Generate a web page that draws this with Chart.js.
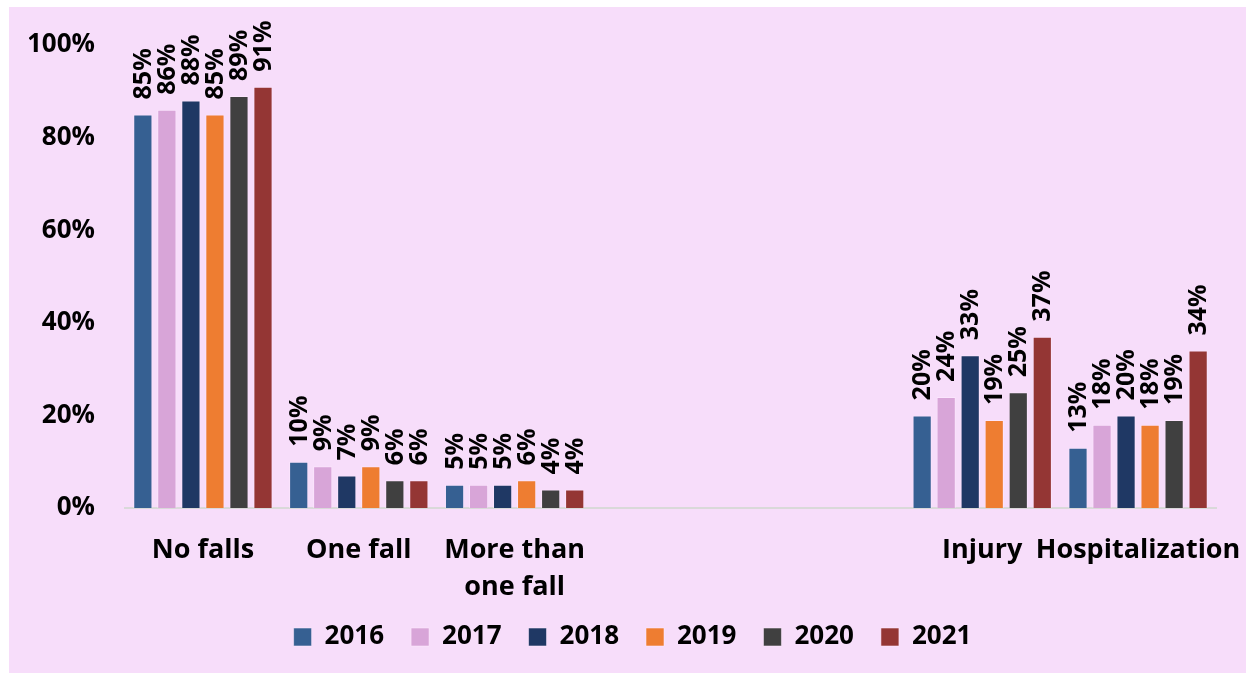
<!DOCTYPE html>
<html>
<head>
<meta charset="utf-8">
<script src="https://cdn.jsdelivr.net/npm/chart.js@4/dist/chart.umd.min.js"></script>
<style>
  body { margin: 0; background: #ffffff; }
  #box { position: absolute; left: 9px; top: 7px; width: 1237px; height: 666px; background: #F7DDFA; }
</style>
</head>
<body>
<div id="box"><canvas id="falls"></canvas></div>
<script>
// categories (two blank slots keep the gap between the fall counts and the outcomes)
const categories = ["No falls", "One fall", ["More than", "one fall"], "", "", "Injury", "Hospitalization"];
const years = ["2016", "2017", "2018", "2019", "2020", "2021"];

const y2016 = [85, 10, 5, null, null, 20, 13];
const y2017 = [86, 9, 5, null, null, 24, 18];
const y2018 = [88, 7, 5, null, null, 33, 20];
const y2019 = [85, 9, 6, null, null, 19, 18];
const y2020 = [89, 6, 4, null, null, 25, 19];
const y2021 = [91, 6, 4, null, null, 37, 34];

const yTicks = [0, 20, 40, 60, 80, 100];

const colors = ["#366092", "#D8A5D8", "#1F3864", "#EE7D31", "#404040", "#943634"];
const FONT = "'Open Sans', 'Liberation Sans', sans-serif";

const series = [y2016, y2017, y2018, y2019, y2020, y2021];

// rotated % labels over each bar
const barLabels = {
    id: "barLabels",
    afterDatasetsDraw(chart) {
        const ctx = chart.ctx;
        ctx.save();
        ctx.font = "bold 25px " + FONT;
        ctx.fillStyle = "#000000";
        chart.data.datasets.forEach((ds, i) => {
            const meta = chart.getDatasetMeta(i);
            meta.data.forEach((bar, j) => {
                const v = ds.data[j];
                if (v === null || v === undefined) return;
                ctx.save();
                ctx.translate(bar.x + 1, bar.y - 15);
                ctx.rotate(-Math.PI / 2);
                ctx.textAlign = "left";
                ctx.textBaseline = "middle";
                ctx.fillText(v + "%", 0, 0);
                ctx.restore();
            });
        });
        ctx.restore();
    }
};

new Chart("falls", {
    type: "bar",
    data: {
        labels: categories,
        datasets: series.map((d, i) => ({
            label: years[i],
            data: d,
            backgroundColor: colors[i],
            borderColor: "rgba(255,235,255,0.55)",
            borderWidth: 1,
            categoryPercentage: 0.925,
            barPercentage: 0.8
        }))
    },
    options: {
        responsive: true,
        maintainAspectRatio: false,
        animation: false,
        layout: { padding: { top: 38, right: 10, bottom: 13, left: 20 } },
        scales: {
            x: {
                grid: { display: false, drawTicks: false },
                border: { display: true, color: "#D9D9D9", width: 2 },
                ticks: {
                    color: "#000000",
                    font: { family: FONT, size: 27, weight: "bold", lineHeight: 1.4 },
                    padding: 23,
                    maxRotation: 0,
                    autoSkip: false
                },
                afterFit: s => {
                    s.height = 89;
                    s.paddingLeft = 0;
                    s.paddingRight = 30;
                }
            },
            y: {
                min: 0,
                max: 100,
                afterBuildTicks: s => { s.ticks = yTicks.map(v => ({ value: v })); },
                grid: { display: false, drawTicks: false },
                border: { display: false },
                ticks: {
                    color: "#000000",
                    font: { family: FONT, size: 26, weight: "bold" },
                    padding: 30,
                    callback: v => v + "%"
                },
                afterFit: s => {
                    s.width = 96;
                    s.paddingTop = 0;
                    s.paddingBottom = 0;
                }
            }
        },
        plugins: {
            legend: {
                position: "bottom",
                labels: {
                    color: "#000000",
                    font: { family: FONT, size: 26, weight: "bold" },
                    boxWidth: 18,
                    boxHeight: 18,
                    padding: 27
                }
            },
            tooltip: { enabled: false }
        }
    },
    plugins: [barLabels]
});
</script>
</body>
</html>
